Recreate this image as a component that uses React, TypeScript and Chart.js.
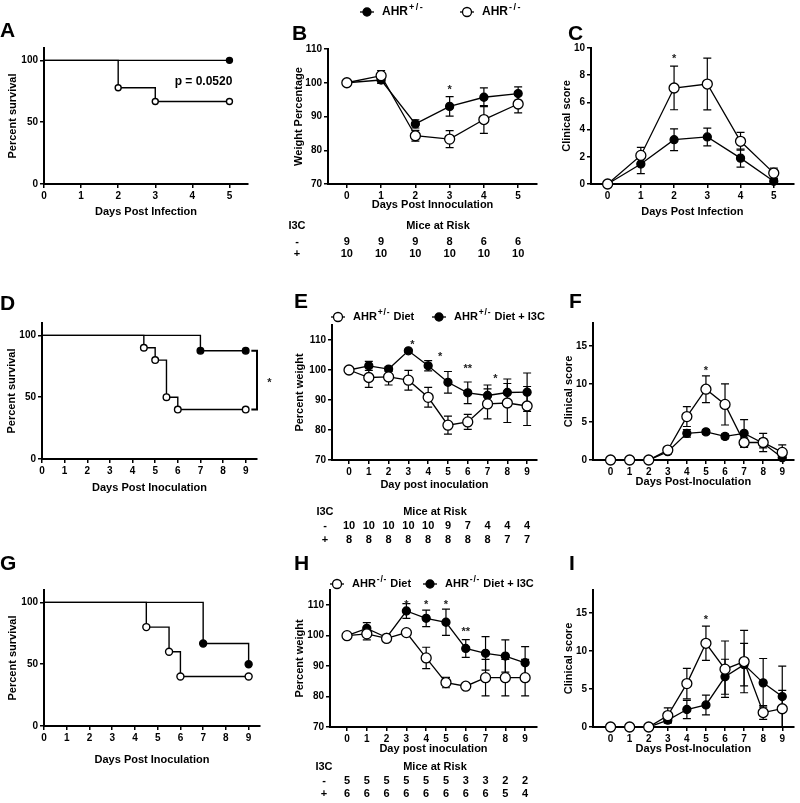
import React, { useEffect, useRef } from 'react';
import { Chart, registerables } from 'chart.js';

Chart.register(...registerables);

const FONT = '"Liberation Sans", Arial, Helvetica, sans-serif';
Chart.defaults.font.family = FONT;
Chart.defaults.color = '#000';

// ---------------- DATA ----------------
// Panel A: survival, days post infection
const aHetDays = [0, 5];
const aHetSurvival = [100, 100];
const aKoDays = [0, 2, 3, 5];
const aKoSurvival = [100, 77.8, 66.7, 66.7];
const daysTo5 = [0, 1, 2, 3, 4, 5];
const daysTo9 = [0, 1, 2, 3, 4, 5, 6, 7, 8, 9];
const survivalTicks = [0, 50, 100];
const weightTicks = [70, 80, 90, 100, 110];
const scoreTicksC = [0, 2, 4, 6, 8, 10];
const scoreTicks = [0, 5, 10, 15];

// Panel B: weight percentage
const bHetWeight = [100, 100.8, 87.8, 93.0, 95.7, 96.8];
const bHetErr = [0, 1.0, 1.2, 2.9, 2.8, 2.0];
const bKoWeight = [100, 102.1, 84.3, 83.3, 89.1, 93.7];
const bKoErr = [0, 1.5, 1.6, 2.5, 4.1, 2.6];
const bStars = [{ day: 3, value: 98.6, text: '*' }];
const bRiskMinus = [9, 9, 9, 8, 6, 6];
const bRiskPlus = [10, 10, 10, 10, 10, 10];

// Panel C: clinical score
const cKoScore = [0, 2.1, 7.06, 7.35, 3.14, 0.8];
const cKoErr = [0, 0.6, 1.6, 1.9, 0.66, 0.37];
const cHetScore = [0, 1.47, 3.26, 3.46, 1.9, 0.2];
const cHetErr = [0, 0.7, 0.8, 0.65, 0.66, 0.2];
const cStars = [{ day: 2, value: 9.4, text: '*' }];

// Panel D: survival
const dI3CDays = [0, 7, 9];
const dI3CSurvival = [100, 87.5, 87.5];
const dDietDays = [0, 4.5, 5, 5.5, 6, 9];
const dDietSurvival = [100, 90, 80, 50, 40, 40];

// Panel E: percent weight
const eDietWeight = [100, 97.5, 97.7, 96.6, 90.9, 81.6, 82.7, 88.7, 89.0, 88.0];
const eDietErr = [0, 3.3, 2.7, 3.3, 3.3, 3.0, 2.5, 5.0, 6.5, 6.5];
const eI3CWeight = [100, 101.4, 100.3, 106.4, 101.4, 95.9, 92.4, 91.5, 92.5, 92.6];
const eI3CErr = [0, 1.5, 0.8, 0.5, 1.7, 3.6, 3.6, 3.5, 4.5, 6.4];
const eStars = [
  { day: 3.2, value: 109.4, text: '*' },
  { day: 4.6, value: 105.2, text: '*' },
  { day: 6, value: 101.3, text: '**' },
  { day: 7.4, value: 98.0, text: '*' },
];
const eRiskMinus = [10, 10, 10, 10, 10, 9, 7, 4, 4, 4];
const eRiskPlus = [8, 8, 8, 8, 8, 8, 8, 8, 7, 7];

// Panel F: clinical score
const fDietScore = [0, 0, 0, 1.3, 5.7, 9.3, 7.3, 2.3, 2.3, 1.0];
const fDietErr = [0, 0, 0, 0.4, 1.3, 1.75, 2.7, 0.6, 1.2, 1.0];
const fI3CScore = [0, 0, 0, 1.1, 3.5, 3.7, 3.1, 3.5, 2.2, 0.3];
const fI3CErr = [0, 0, 0, 0.3, 0.5, 0.3, 0.3, 1.8, 0.6, 0.3];
const fStars = [{ day: 5, value: 12.1, text: '*' }];

// Panel G: survival
const gI3CDays = [0, 7, 9];
const gI3CSurvival = [100, 66.7, 50];
const gDietDays = [0, 4.5, 5.5, 6, 9];
const gDietSurvival = [100, 80, 60, 40, 40];

// Panel H: percent weight
const hDietWeight = [100, 100.6, 99.1, 101.0, 92.7, 84.6, 83.4, 86.2, 86.2, 86.2];
const hDietErr = [0, 2.0, 1.0, 0.5, 3.5, 1.7, 0.5, 6.0, 6.0, 6.0];
const hI3CWeight = [100, 102.4, 99.4, 108.1, 105.7, 104.4, 95.8, 94.2, 93.3, 91.1];
const hI3CErr = [0, 1.9, 1.0, 2.4, 2.7, 4.3, 2.9, 5.5, 5.3, 5.3];
const hStars = [
  { day: 3, value: 111.2, text: '*' },
  { day: 4, value: 111.2, text: '*' },
  { day: 5, value: 111.2, text: '*' },
  { day: 6, value: 102.1, text: '**' },
];
const hRiskMinus = [5, 5, 5, 5, 5, 5, 3, 3, 2, 2];
const hRiskPlus = [6, 6, 6, 6, 6, 6, 6, 6, 5, 4];

// Panel I: clinical score
const iDietScore = [0, 0, 0, 1.5, 5.7, 11.0, 7.6, 8.6, 1.9, 2.4];
const iDietErr = [0, 0, 0, 1.0, 2.0, 2.25, 3.7, 4.1, 0.9, 2.4];
const iI3CScore = [0, 0, 0, 0.9, 2.3, 2.9, 6.6, 8.2, 5.8, 4.0];
const iI3CErr = [0, 0, 0, 0.3, 1.2, 1.3, 2.3, 2.8, 3.2, 4.0];
const iStars = [{ day: 5, value: 14.5, text: '*' }];

// ---------------- HELPERS ----------------
const pts = (xs: number[], ys: number[]) => xs.map((x, i) => ({ x, y: ys[i] }));

function meanSeries(xs: number[], ys: number[], errs: number[], filled: boolean) {
  return {
    data: pts(xs, ys),
    errors: errs,
    borderColor: '#000',
    borderWidth: 1.3,
    pointBackgroundColor: filled ? '#000' : '#fff',
    pointBorderColor: '#000',
    pointBorderWidth: 1.3,
    pointRadius: filled ? 4 : 5,
    pointHoverRadius: filled ? 4 : 5,
    clip: false,
    fill: false,
    tension: 0,
  };
}

function survivalSeries(xs: number[], ys: number[], filled: boolean, r: number) {
  return {
    data: pts(xs, ys),
    stepped: 'before',
    borderColor: '#000',
    borderWidth: 1.4,
    pointBackgroundColor: filled ? '#000' : '#fff',
    pointBorderColor: '#000',
    pointBorderWidth: 1.4,
    pointRadius: xs.map((_, i) => (i === 0 ? 0 : r)),
    pointHoverRadius: xs.map((_, i) => (i === 0 ? 0 : r)),
    clip: false,
    fill: false,
  };
}

function txt(ctx: CanvasRenderingContext2D, s: string, x: number, y: number, size = 11, align: CanvasTextAlign = 'center', color = '#000') {
  ctx.save();
  ctx.font = `bold ${size}px ${FONT}`;
  ctx.fillStyle = color;
  ctx.textAlign = align;
  ctx.textBaseline = 'middle';
  ctx.fillText(s, x, y);
  ctx.restore();
}

function drawStars(ctx: CanvasRenderingContext2D, chart: any, list: { day: number; value: number; text: string }[]) {
  const xs = chart.scales.x, ys = chart.scales.y;
  list.forEach((s) => {
    ctx.save();
    ctx.font = `bold 11px ${FONT}`;
    ctx.fillStyle = '#222';
    ctx.textAlign = 'center';
    ctx.textBaseline = 'alphabetic';
    ctx.fillText(s.text, xs.getPixelForValue(s.day), ys.getPixelForValue(s.value) + 6);
    ctx.restore();
  });
}

function legendItem(ctx: CanvasRenderingContext2D, x: number, y: number, filled: boolean, main: string, sup: string, rest: string, size: number, supSize: number, supGap: number) {
  ctx.save();
  ctx.strokeStyle = '#000';
  ctx.lineWidth = 1.3;
  ctx.beginPath();
  ctx.moveTo(x, y);
  ctx.lineTo(x + 14, y);
  ctx.stroke();
  ctx.beginPath();
  ctx.arc(x + 7, y, filled ? 4 : 4.5, 0, Math.PI * 2);
  ctx.fillStyle = filled ? '#000' : '#fff';
  ctx.fill();
  ctx.stroke();
  let tx = x + 22;
  ctx.fillStyle = '#000';
  ctx.textAlign = 'left';
  ctx.textBaseline = 'middle';
  ctx.font = `bold ${size}px ${FONT}`;
  ctx.fillText(main, tx, y);
  tx += ctx.measureText(main).width + 1;
  ctx.font = `bold ${supSize}px ${FONT}`;
  for (const ch of sup) {
    ctx.fillText(ch, tx, y - 4);
    tx += ctx.measureText(ch).width + supGap;
  }
  if (rest) {
    ctx.font = `bold ${size}px ${FONT}`;
    ctx.fillText(rest, tx, y);
  }
  ctx.restore();
}

function riskTable(ctx: CanvasRenderingContext2D, chart: any, ox: number, oy: number, days: number[], minus: number[], plus: number[], lay: { labelX: number; titleX: number; headY: number; minusY: number; plusY: number }) {
  const xs = chart.scales.x;
  txt(ctx, 'I3C', lay.labelX - ox, lay.headY - oy);
  txt(ctx, 'Mice at Risk', lay.titleX - ox, lay.headY - oy);
  txt(ctx, '-', lay.labelX - ox, lay.minusY - oy);
  txt(ctx, '+', lay.labelX - ox, lay.plusY - oy);
  days.forEach((d, i) => {
    const x = xs.getPixelForValue(d);
    txt(ctx, String(minus[i]), x, lay.minusY - oy);
    txt(ctx, String(plus[i]), x, lay.plusY - oy);
  });
}

const errorBarPlugin = {
  id: 'errorBars',
  beforeDatasetsDraw(chart: any) {
    const ctx = chart.ctx;
    const ys = chart.scales.y;
    chart.data.datasets.forEach((ds: any, di: number) => {
      if (!ds.errors) return;
      const meta = chart.getDatasetMeta(di);
      ctx.save();
      ctx.strokeStyle = '#000';
      ctx.lineWidth = 1.2;
      ds.data.forEach((p: any, i: number) => {
        const e = ds.errors[i];
        if (!e) return;
        const x = meta.data[i].x;
        const t = ys.getPixelForValue(p.y + e);
        const b = ys.getPixelForValue(p.y - e);
        ctx.beginPath();
        ctx.moveTo(x, t); ctx.lineTo(x, b);
        ctx.moveTo(x - 4, t); ctx.lineTo(x + 4, t);
        ctx.moveTo(x - 4, b); ctx.lineTo(x + 4, b);
        ctx.stroke();
      });
      ctx.restore();
    });
  },
};

interface Spec {
  id: string;
  canvas: { l: number; t: number; w: number; h: number };
  plot: { x0: number; x1: number; y0: number; y1: number };
  xMin: number; xMax: number; xTicks: number[];
  yMin: number; yMax: number; yTicks: number[];
  xTitle: string; xTitleY: number; yTitle: string; yTitleX: number;
  datasets: any[];
  draw?: (ctx: CanvasRenderingContext2D, chart: any, ox: number, oy: number) => void;
}

const TICK_FONT = { family: FONT, size: 10, weight: 'bold' as const };
const TITLE_FONT = { family: FONT, size: 11, weight: 'bold' as const };
const LH = 11 * 1.2;

function axis(min: number, max: number, ticks: number[], title: string, pad: any, fix: number, isX: boolean) {
  return {
    type: 'linear',
    position: isX ? 'bottom' : 'left',
    min, max, offset: false,
    afterBuildTicks: (sc: any) => { sc.ticks = ticks.map((v) => ({ value: v })); },
    afterFit: (sc: any) => { if (isX) sc.height = fix; else sc.width = fix; },
    ticks: { font: TICK_FONT, color: '#000', padding: 2, autoSkip: false, maxRotation: 0, minRotation: 0 },
    grid: { display: true, drawOnChartArea: false, drawTicks: true, tickLength: 4, color: '#000', lineWidth: 1.5 },
    border: { display: true, color: '#000', width: 2 },
    title: { display: true, text: title, color: '#000', font: TITLE_FONT, padding: pad },
  };
}

function buildConfig(s: Spec): any {
  const { l, t, w, h } = s.canvas;
  const yw = s.plot.x0 - l;
  const padTop = s.plot.y0 - t;
  const padRight = l + w - s.plot.x1;
  const xh = t + h - s.plot.y1;
  const xPadBottom = t + h - s.xTitleY - LH / 2;
  const yPadTop = s.yTitleX - l - LH / 2;
  return {
    type: 'line',
    data: { datasets: s.datasets },
    options: {
      responsive: false,
      maintainAspectRatio: false,
      animation: false,
      devicePixelRatio: 1,
      events: [],
      layout: { padding: { top: padTop, right: padRight, left: 0, bottom: 0 } },
      plugins: { legend: { display: false }, tooltip: { enabled: false }, title: { display: false } },
      scales: {
        x: axis(s.xMin, s.xMax, s.xTicks, s.xTitle, { top: 0, bottom: xPadBottom }, xh, true),
        y: axis(s.yMin, s.yMax, s.yTicks, s.yTitle, { top: yPadTop, bottom: 0 }, yw, false),
      },
    },
    plugins: [
      errorBarPlugin,
      {
        id: 'annot_' + s.id,
        afterDraw(chart: any) {
          if (s.draw) s.draw(chart.ctx, chart, l, t);
        },
      },
    ],
  };
}

// ---------------- PANELS ----------------
const specs: Spec[] = [
  {
    id: 'A',
    canvas: { l: 0, t: 38, w: 256, h: 187 },
    plot: { x0: 44, x1: 248, y0: 48, y1: 184 },
    xMin: 0, xMax: 5.5, xTicks: daysTo5,
    yMin: 0, yMax: 110, yTicks: survivalTicks,
    xTitle: 'Days Post Infection', xTitleY: 212,
    yTitle: 'Percent survival', yTitleX: 13,
    datasets: [survivalSeries(aKoDays, aKoSurvival, false, 3), survivalSeries(aHetDays, aHetSurvival, true, 3)],
    draw: (ctx, chart) => {
      txt(ctx, 'p = 0.0520', chart.scales.x.getPixelForValue(4.3), chart.scales.y.getPixelForValue(82.5), 12);
    },
  },
  {
    id: 'B',
    canvas: { l: 282, t: 0, w: 263, h: 262 },
    plot: { x0: 328, x1: 537, y0: 49, y1: 184 },
    xMin: -0.55, xMax: 5.55, xTicks: daysTo5,
    yMin: 70, yMax: 110, yTicks: weightTicks,
    xTitle: 'Days Post Innoculation', xTitleY: 205,
    yTitle: 'Weight Percentage', yTitleX: 299,
    datasets: [meanSeries(daysTo5, bKoWeight, bKoErr, false), meanSeries(daysTo5, bHetWeight, bHetErr, true)],
    draw: (ctx, chart, ox, oy) => {
      legendItem(ctx, 360 - ox, 12 - oy, true, 'AHR', '+/-', '', 12, 9, 1.5);
      legendItem(ctx, 460 - ox, 12 - oy, false, 'AHR', '-/-', '', 12, 9, 1.5);
      drawStars(ctx, chart, bStars);
      riskTable(ctx, chart, ox, oy, daysTo5, bRiskMinus, bRiskPlus, { labelX: 297, titleX: 438, headY: 226, minusY: 242, plusY: 254 });
    },
  },
  {
    id: 'C',
    canvas: { l: 555, t: 38, w: 245, h: 187 },
    plot: { x0: 591, x1: 799, y0: 48, y1: 184 },
    xMin: -0.5, xMax: 5.6, xTicks: daysTo5,
    yMin: 0, yMax: 10, yTicks: scoreTicksC,
    xTitle: 'Days Post Infection', xTitleY: 212,
    yTitle: 'Clinical score', yTitleX: 567,
    datasets: [meanSeries(daysTo5, cKoScore, cKoErr, false), meanSeries(daysTo5, cHetScore, cHetErr, true)],
    draw: (ctx, chart) => drawStars(ctx, chart, cStars),
  },
  {
    id: 'D',
    canvas: { l: 0, t: 300, w: 282, h: 200 },
    plot: { x0: 42, x1: 257, y0: 323, y1: 459 },
    xMin: 0, xMax: 9.5, xTicks: daysTo9,
    yMin: 0, yMax: 110, yTicks: survivalTicks,
    xTitle: 'Days Post Inoculation', xTitleY: 488,
    yTitle: 'Percent survival', yTitleX: 12,
    datasets: [survivalSeries(dDietDays, dDietSurvival, false, 3.3), survivalSeries(dI3CDays, dI3CSurvival, true, 3.3)],
    draw: (ctx, chart) => {
      const xs = chart.scales.x, ys = chart.scales.y;
      const xa = xs.getPixelForValue(9.25), xb = xs.getPixelForValue(9.5);
      const ya = ys.getPixelForValue(87.5), yb = ys.getPixelForValue(40);
      ctx.save();
      ctx.strokeStyle = '#000';
      ctx.lineWidth = 2;
      ctx.beginPath();
      ctx.moveTo(xa, ya); ctx.lineTo(xb, ya); ctx.lineTo(xb, yb); ctx.lineTo(xa, yb);
      ctx.stroke();
      ctx.restore();
      ctx.save();
      ctx.font = `bold 11px ${FONT}`;
      ctx.fillStyle = '#222';
      ctx.textAlign = 'center';
      ctx.fillText('*', xs.getPixelForValue(10.05), ys.getPixelForValue(63.75) + 6);
      ctx.restore();
    },
  },
  {
    id: 'E',
    canvas: { l: 284, t: 300, w: 272, h: 250 },
    plot: { x0: 332, x1: 537, y0: 325, y1: 460 },
    xMin: -0.86, xMax: 9.5, xTicks: daysTo9,
    yMin: 70, yMax: 115, yTicks: weightTicks,
    xTitle: 'Day post inoculation', xTitleY: 485,
    yTitle: 'Percent weight', yTitleX: 300,
    datasets: [meanSeries(daysTo9, eDietWeight, eDietErr, false), meanSeries(daysTo9, eI3CWeight, eI3CErr, true)],
    draw: (ctx, chart, ox, oy) => {
      legendItem(ctx, 331 - ox, 317 - oy, false, 'AHR', '+/-', ' Diet', 11, 8.5, 0.8);
      legendItem(ctx, 432 - ox, 317 - oy, true, 'AHR', '+/-', ' Diet + I3C', 11, 8.5, 0.8);
      drawStars(ctx, chart, eStars);
      riskTable(ctx, chart, ox, oy, daysTo9, eRiskMinus, eRiskPlus, { labelX: 325, titleX: 435, headY: 512, minusY: 526, plusY: 540 });
    },
  },
  {
    id: 'F',
    canvas: { l: 557, t: 300, w: 243, h: 200 },
    plot: { x0: 593, x1: 800, y0: 323, y1: 460 },
    xMin: -0.92, xMax: 9.6, xTicks: daysTo9,
    yMin: 0, yMax: 18, yTicks: scoreTicks,
    xTitle: 'Days Post-Inoculation', xTitleY: 482,
    yTitle: 'Clinical score', yTitleX: 569,
    datasets: [meanSeries(daysTo9, fDietScore, fDietErr, false), meanSeries(daysTo9, fI3CScore, fI3CErr, true)],
    draw: (ctx, chart) => drawStars(ctx, chart, fStars),
  },
  {
    id: 'G',
    canvas: { l: 0, t: 570, w: 270, h: 205 },
    plot: { x0: 44, x1: 260, y0: 590, y1: 726 },
    xMin: 0, xMax: 9.5, xTicks: daysTo9,
    yMin: 0, yMax: 110, yTicks: survivalTicks,
    xTitle: 'Days Post Inoculation', xTitleY: 760,
    yTitle: 'Percent survival', yTitleX: 13,
    datasets: [survivalSeries(gDietDays, gDietSurvival, false, 3.5), survivalSeries(gI3CDays, gI3CSurvival, true, 3.5)],
  },
  {
    id: 'H',
    canvas: { l: 282, t: 570, w: 274, h: 233 },
    plot: { x0: 330, x1: 537, y0: 590, y1: 727 },
    xMin: -0.86, xMax: 9.6, xTicks: daysTo9,
    yMin: 70, yMax: 115, yTicks: weightTicks,
    xTitle: 'Day post inoculation', xTitleY: 749,
    yTitle: 'Percent weight', yTitleX: 300,
    datasets: [meanSeries(daysTo9, hDietWeight, hDietErr, false), meanSeries(daysTo9, hI3CWeight, hI3CErr, true)],
    draw: (ctx, chart, ox, oy) => {
      legendItem(ctx, 330 - ox, 584 - oy, false, 'AHR', '-/-', ' Diet', 11, 8.5, 0.8);
      legendItem(ctx, 423 - ox, 584 - oy, true, 'AHR', '-/-', ' Diet + I3C', 11, 8.5, 0.8);
      drawStars(ctx, chart, hStars);
      riskTable(ctx, chart, ox, oy, daysTo9, hRiskMinus, hRiskPlus, { labelX: 324, titleX: 435, headY: 767, minusY: 781, plusY: 794 });
    },
  },
  {
    id: 'I',
    canvas: { l: 557, t: 570, w: 243, h: 205 },
    plot: { x0: 593, x1: 800, y0: 590, y1: 727 },
    xMin: -0.92, xMax: 9.6, xTicks: daysTo9,
    yMin: 0, yMax: 18, yTicks: scoreTicks,
    xTitle: 'Days Post-Inoculation', xTitleY: 749,
    yTitle: 'Clinical score', yTitleX: 569,
    datasets: [meanSeries(daysTo9, iDietScore, iDietErr, false), meanSeries(daysTo9, iI3CScore, iI3CErr, true)],
    draw: (ctx, chart) => drawStars(ctx, chart, iStars),
  },
];

const letters = [
  { t: 'A', x: 0, y: 19 },
  { t: 'B', x: 292, y: 22 },
  { t: 'C', x: 568, y: 22 },
  { t: 'D', x: 0, y: 292 },
  { t: 'E', x: 294, y: 290 },
  { t: 'F', x: 569, y: 290 },
  { t: 'G', x: 0, y: 552 },
  { t: 'H', x: 294, y: 552 },
  { t: 'I', x: 569, y: 552 },
];

function Panel({ spec }: { spec: Spec }) {
  const ref = useRef<HTMLCanvasElement>(null);
  useEffect(() => {
    const chart = new Chart(ref.current as HTMLCanvasElement, buildConfig(spec));
    return () => chart.destroy();
  }, [spec]);
  const { l, t, w, h } = spec.canvas;
  return (
    <canvas
      ref={ref}
      width={w}
      height={h}
      style={{ position: 'absolute', left: l, top: t, width: w, height: h }}
    />
  );
}

export default function App() {
  return (
    <div style={{ position: 'absolute', left: 0, top: 0, width: 800, height: 803, background: '#fff', overflow: 'hidden' }}>
      {specs.map((s) => (
        <Panel key={s.id} spec={s} />
      ))}
      {letters.map((L) => (
        <div
          key={L.t}
          style={{
            position: 'absolute',
            left: L.x,
            top: L.y,
            fontFamily: FONT,
            fontWeight: 'bold',
            fontSize: 21,
            lineHeight: '21px',
            color: '#000',
          }}
        >
          {L.t}
        </div>
      ))}
    </div>
  );
}
